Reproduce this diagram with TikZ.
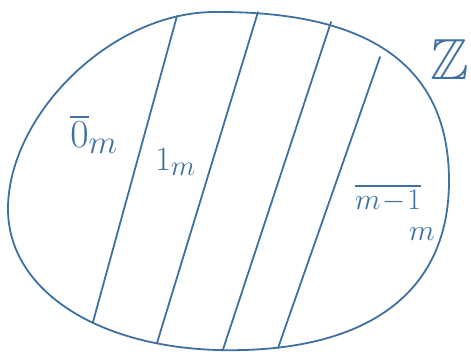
\documentclass[tikz,border=0pt]{standalone}
\usepackage{amssymb}
\definecolor{ink}{RGB}{62,112,160}
\tikzset{
  pen/.style={draw=ink, line width=1.8pt, line cap=round, line join=round},
  lbl/.style={text=ink, inner sep=0pt, font=\Huge, anchor=north west},
}
\begin{document}
\begin{tikzpicture}[x=1pt,y=1pt]
\useasboundingbox (0,0) rectangle (471,351);
% blob
\draw[pen] (215,339) .. controls (370,340) and (449,285) .. (449,170)
  .. controls (449,60) and (370,0.8) .. (230,0.8)
  .. controls (100,0.8) and (8,60) .. (8,142)
  .. controls (8,235) and (110,339) .. (215,339) -- cycle;
% strip boundaries
\coordinate (t1) at (177,335); \coordinate (b1) at (93,29);
\coordinate (t2) at (258,339); \coordinate (b2) at (157,8);
\coordinate (t3) at (331,329); \coordinate (b3) at (223,1.5);
\coordinate (t4) at (380,294); \coordinate (b4) at (278,3);
\draw[pen] (t1) -- (b1);
\draw[pen] (t2) -- (b2);
\draw[pen] (t3) -- (b3);
\draw[pen] (t4) -- (b4);
% labels
\node[lbl, scale=1.6] (l0) at (70,237) {$\overline{0}_m$};
\node[lbl, scale=1.37] (l1) at (155,203) {$1_m$};
\node[lbl, scale=1.2] (lm) at (355,167) {$\overline{m\!-\!1}_{\kern-10pt\raisebox{-22pt}{$\textstyle m$}}$};
\node[lbl, font=\fontsize{58}{60}\selectfont, anchor=center] (Z) at (450,291) {$\mathbb{Z}$};
\end{tikzpicture}
\end{document}
